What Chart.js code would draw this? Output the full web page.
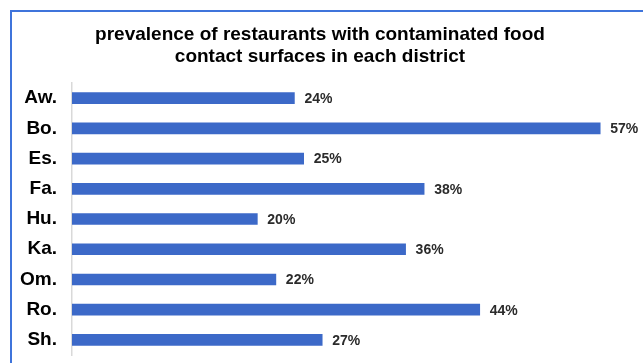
<!DOCTYPE html>
<html>
<head>
<meta charset="utf-8">
<script src="https://cdn.jsdelivr.net/npm/chart.js@4/dist/chart.umd.min.js"></script>
<style>
    html, body {
        margin: 0;
        padding: 0;
        background: #ffffff;
        overflow: hidden;
    }
    #frame {
        position: absolute;
        left: 10px;
        top: 10px;
        width: 631px;
        height: 351px;
        border-top: 2px solid #3f74db;
        border-left: 2px solid #3f74db;
    }
    #wrap {
        position: absolute;
        left: 12px;
        top: 12px;
        width: 631px;
        height: 351px;
    }
</style>
</head>
<body>
<div id="frame"></div>
<div id="wrap"><canvas id="chart"></canvas></div>
<script>
    const districts = ["Aw.", "Bo.", "Es.", "Fa.", "Hu.", "Ka.", "Om.", "Ro.", "Sh."];
    const prevalence = [24, 57, 25, 38, 20, 36, 22, 44, 27];
    const titleLines = ["prevalence of restaurants with contaminated food", "contact surfaces in each district"];

    const barColor = "#3c69c8";

    // draws "24%" etc just after the end of each bar
    const valueLabels = {
        id: "valueLabels",
        afterDatasetsDraw(chart) {
            const ctx = chart.ctx;
            const meta = chart.getDatasetMeta(0);
            ctx.save();
            ctx.font = "bold 14px 'Liberation Sans', Arial, sans-serif";
            ctx.fillStyle = "#2b2b2b";
            ctx.textAlign = "left";
            ctx.textBaseline = "middle";
            meta.data.forEach(function (bar, i) {
                ctx.fillText(prevalence[i] + "%", bar.x + 10, bar.y + 1);
            });
            ctx.restore();
        },
    };

    new Chart(document.getElementById("chart").getContext("2d"), {
        type: "bar",
        data: {
            labels: districts,
            datasets: [
                {
                    data: prevalence,
                    backgroundColor: barColor,
                    borderWidth: 0,
                    barThickness: 11,
                },
            ],
        },
        plugins: [valueLabels],
        options: {
            indexAxis: "y",
            responsive: true,
            maintainAspectRatio: false,
            animation: false,
            layout: {
                padding: { left: 0, right: 15, top: 0, bottom: 8 },
            },
            scales: {
                x: {
                    display: false,
                    min: 0,
                    max: 60,
                },
                y: {
                    afterFit: function (scale) {
                        // fixed label column, and no extra space above/below for the labels
                        scale.width = 60;
                        scale.paddingTop = 0;
                        scale.paddingBottom = 0;
                    },
                    grid: {
                        display: false,
                        drawTicks: false,
                    },
                    border: {
                        display: true,
                        color: "#d9d9d9",
                        width: 1.5,
                    },
                    ticks: {
                        padding: 15,
                        color: "#000000",
                        font: {
                            family: "'Liberation Sans', Arial, sans-serif",
                            size: 19,
                            weight: "bold",
                        },
                    },
                },
            },
            plugins: {
                legend: {
                    display: false,
                },
                tooltip: {
                    enabled: false,
                },
                title: {
                    display: true,
                    text: titleLines,
                    color: "#000000",
                    font: {
                        family: "'Liberation Sans', Arial, sans-serif",
                        size: 19,
                        weight: "bold",
                        lineHeight: 1.16,
                    },
                    padding: { top: 12, bottom: 15 },
                },
            },
        },
    });
</script>
</body>
</html>
